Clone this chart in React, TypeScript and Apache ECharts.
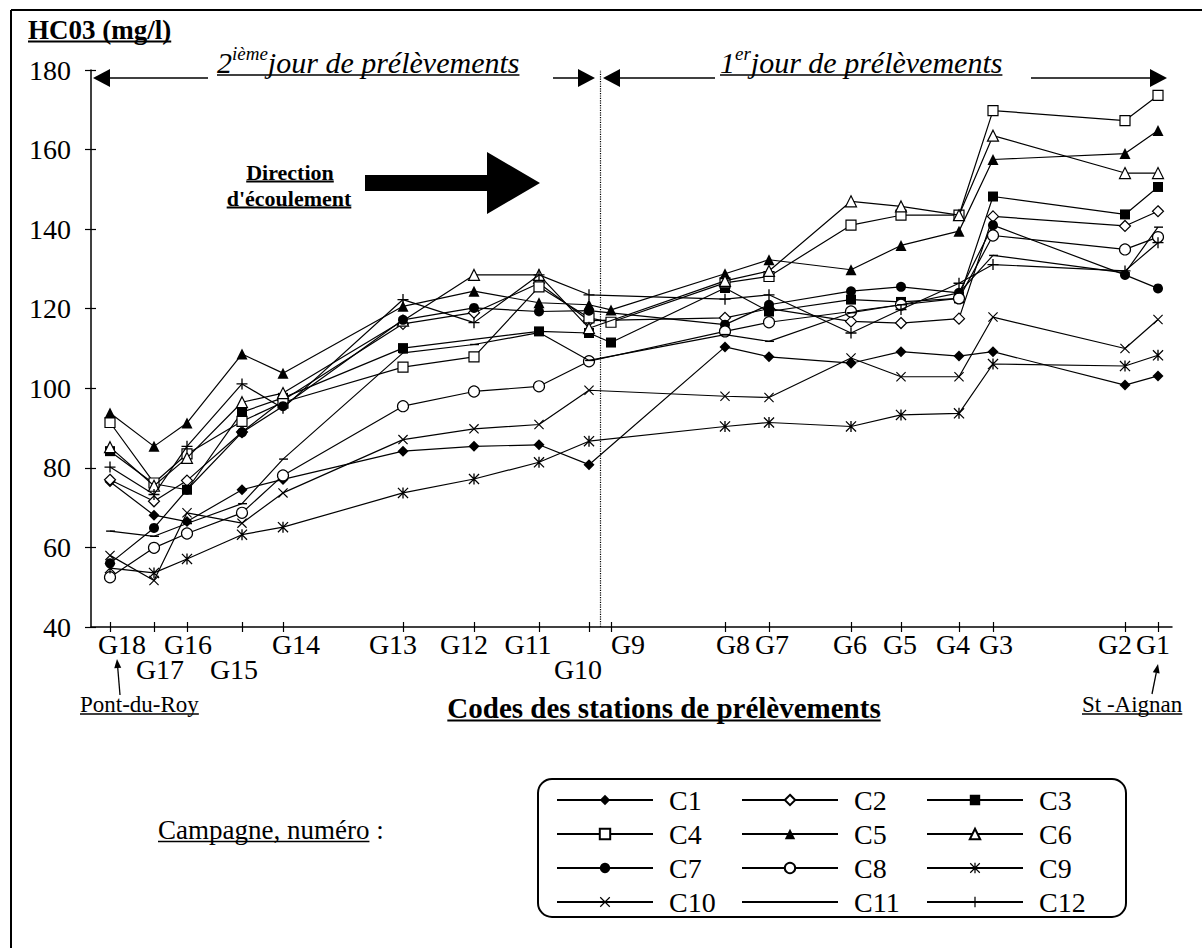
import React, { useEffect, useRef } from "react";
import * as echarts from "echarts";

// ---------- DATA ----------
const stations = ["G18", "G17", "G16", "G15", "G14", "G13", "G12", "G11", "G10", "G9", "G8", "G7", "G6", "G5", "G4", "G3", "G2", "G1"];
// position of each station along the river axis (axis units)
const stationDistance = [19, 63, 96, 151, 192, 312, 383, 448, 498, 520, 634, 678, 760, 810, 868, 902, 1034, 1067];
const secondRowStations = ["G17", "G15", "G10"];
const dayBoundary = 509;

const C1 = [76.5, 68.1, 66.5, 74.5, 77.1, 84.2, 85.4, 85.8, 80.8, null, 110.4, 107.9, 106.3, 109.2, 108.1, 109.2, 100.8, 103.1];
const C2 = [77, 71.6, 76.8, 89, 97, 116.2, 119, 126.4, 117, null, 117.7, 120, 116.8, 116.4, 117.5, 143.2, 140.8, 144.5];
const C3 = [84.2, 76, 74.5, 94, 97.6, 110.1, null, 114.3, 113.9, 111.5, 125.2, 119.3, 122.3, 121.7, 122.6, 148.2, 143.7, 150.6];
const C4 = [91.4, 76.2, 83.5, 91.7, 96.5, 105.3, 107.9, 125.5, 117.7, 116.6, 126.5, 128.1, 141, 143.5, 143.5, 169.8, 167.3, 173.6];
const C5 = [93.8, 85.4, 91.3, 108.6, 103.8, 120.6, 124.4, 121.5, 121, 119.7, 128.8, 132.3, 129.8, 135.9, 139.5, 157.5, 159, 164.8];
const C6 = [85.2, 75.5, 82.5, 96.5, 98.8, 117, 128.5, 128.5, 115.1, null, 127, 129.5, 147, 145.7, 143.5, 163.5, 154.1, 154.1];
const C7 = [56, 64.9, 74.5, 88.9, 95.5, 117.2, 120.2, 119.3, 119.5, null, 116, 121, 124.4, 125.5, 124, 141, 128.5, 125.1];
const C8 = [52.5, 59.9, 63.5, 68.7, 78.1, 95.5, 99.2, 100.5, 106.8, null, 114.3, 116.6, 119.3, 121, 122.6, 138.4, 134.9, 138];
const C9 = [54.8, 53.6, 57.1, 63.2, 65.1, 73.7, 77.2, 81.4, 86.7, null, 90.4, 91.4, 90.4, 93.3, 93.7, 106.1, 105.6, 108.3];
const C10 = [58, 51.7, 68.7, 66.1, 73.7, 87.1, 89.8, 90.9, 99.5, null, 98, 97.7, 107.6, 102.9, 102.9, 117.9, 110, 117.3];
const C11 = [64.1, 62.8, 66, 71, 82.2, 108.9, 111, 114, 107, null, 113.5, 111.8, 119, 121, 124, 133.4, 129, 140.5];
const C12 = [80.2, 73.3, 85.4, 101.1, 95, 122.3, 116.5, 128.5, 123.5, null, 122.4, 123.5, 113.9, 119.8, 126.4, 131.1, 129.5, 136.6];

const seriesNames = ["C1", "C2", "C3", "C4", "C5", "C6", "C7", "C8", "C9", "C10", "C11", "C12"];
const seriesValues = [C1, C2, C3, C4, C5, C6, C7, C8, C9, C10, C11, C12];

// ---------- STYLE ----------
const FONT = '"Liberation Serif", "Times New Roman", Times, serif';
const labelShift = [12, 6, 1, -8, 13, -10, -10, -11, -11, 17, 8, 3, -1, -1, -6, 3, -10, -5];
const legendColX = [556, 741, 926];
const legendRowY = [800, 834, 868, 902];

const SYM_PLUS = "path://M4.4,0L5.6,0L5.6,10L4.4,10ZM0,4.4L10,4.4L10,5.6L0,5.6Z";
const SYM_CROSS = "path://M0.8,0L10,9.2L9.2,10L0,0.8ZM9.2,0L10,0.8L0.8,10L0,9.2Z";
const SYM_STAR = "path://M0.8,0L10,9.2L9.2,10L0,0.8ZM9.2,0L10,0.8L0.8,10L0,9.2ZM4.4,0L5.6,0L5.6,10L4.4,10Z";
const SYM_DASH = "path://M0,0L0,0M1,4.3L9,4.3L9,5.7L1,5.7ZM0,10L0,10";

const markerStyles = [
  { symbol: "diamond", size: 11, fill: "#000" },
  { symbol: "diamond", size: 11, fill: "#fff" },
  { symbol: "rect", size: 10, fill: "#000" },
  { symbol: "rect", size: 10, fill: "#fff" },
  { symbol: "triangle", size: 11, fill: "#000" },
  { symbol: "triangle", size: 11, fill: "#fff" },
  { symbol: "circle", size: 10, fill: "#000" },
  { symbol: "circle", size: 11, fill: "#fff" },
  { symbol: SYM_STAR, size: 11, fill: "#000", path: true },
  { symbol: SYM_CROSS, size: 10, fill: "#000", path: true },
  { symbol: SYM_DASH, size: 10, fill: "#000", path: true },
  { symbol: SYM_PLUS, size: 11, fill: "#000", path: true },
];

let measureCtx: CanvasRenderingContext2D | null = null;
function measure(text: string, size: number, weight = "normal", style = "normal") {
  if (!measureCtx) measureCtx = document.createElement("canvas").getContext("2d");
  measureCtx!.font = `${style} ${weight} ${size}px ${FONT}`;
  return measureCtx!.measureText(text).width;
}

function txt(text: string, x: number, yc: number, size: number, opts: any = {}) {
  return {
    type: "text",
    x,
    y: yc,
    silent: true,
    style: {
      text,
      fill: "#000",
      fontSize: size,
      fontFamily: FONT,
      fontWeight: opts.weight || "normal",
      fontStyle: opts.style || "normal",
      align: opts.align || "left",
      textAlign: opts.align || "left",
      verticalAlign: "middle",
      textVerticalAlign: "middle",
    },
  };
}

function hline(x1: number, x2: number, y: number, w = 1.5) {
  return { type: "line", silent: true, shape: { x1, y1: y, x2, y2: y }, style: { stroke: "#000", lineWidth: w } };
}

function underlined(text: string, x: number, yc: number, size: number, opts: any = {}) {
  const w = measure(text, size, opts.weight || "normal", opts.style || "normal");
  const align = opts.align || "left";
  const x0 = align === "center" ? x - w / 2 : align === "right" ? x - w : x;
  const uy = yc + size * 0.43;
  return [txt(text, x, yc, size, opts), hline(x0, x0 + w, uy, opts.weight === "bold" ? 2 : 1.5)];
}

function supText(x: number, yc: number, base: string, sup: string, rest: string, size: number) {
  const supSize = Math.round(size * 0.62);
  const w1 = measure(base, size, "normal", "italic");
  const w2 = measure(sup, supSize, "normal", "italic");
  const w3 = measure(rest, size, "normal", "italic");
  return [
    txt(base, x, yc, size, { style: "italic" }),
    txt(sup, x + w1, yc - size * 0.3, supSize, { style: "italic" }),
    txt(rest, x + w1 + w2, yc, size, { style: "italic" }),
    hline(x, x + w1 + w2 + w3, yc + size * 0.43, 1.5),
  ];
}

function headLeft(tipX: number, y: number) {
  return { type: "polygon", silent: true, shape: { points: [[tipX, y], [tipX + 17, y - 9], [tipX + 17, y + 9]] }, style: { fill: "#000" } };
}
function headRight(tipX: number, y: number) {
  return { type: "polygon", silent: true, shape: { points: [[tipX, y], [tipX - 17, y - 9], [tipX - 17, y + 9]] }, style: { fill: "#000" } };
}

function smallArrow(x1: number, y1: number, x2: number, y2: number) {
  const ang = Math.atan2(y2 - y1, x2 - x1);
  const L = 9, W = 3.5;
  const bx = x2 - L * Math.cos(ang), by = y2 - L * Math.sin(ang);
  const px = -Math.sin(ang) * W, py = Math.cos(ang) * W;
  return [
    { type: "line", silent: true, shape: { x1, y1, x2: bx, y2: by }, style: { stroke: "#000", lineWidth: 1.3 } },
    { type: "polygon", silent: true, shape: { points: [[x2, y2], [bx + px, by + py], [bx - px, by - py]] }, style: { fill: "#000" } },
  ];
}

function buildGraphics() {
  const g: any[] = [];
  // frame
  g.push({ type: "line", silent: true, shape: { x1: 11, y1: 10, x2: 1202, y2: 10 }, style: { stroke: "#000", lineWidth: 2 } });
  g.push({ type: "line", silent: true, shape: { x1: 11, y1: 10, x2: 11, y2: 948 }, style: { stroke: "#000", lineWidth: 2 } });
  // title
  g.push(...underlined("HC03 (mg/l)", 28, 30, 27, { weight: "bold" }));
  // day arrows
  const ay = 78;
  g.push(headLeft(93, ay), hline(108, 208, ay, 1.5));
  g.push(...supText(217, 62, "2", "ième", "jour de prélèvements", 30));
  g.push(hline(553, 580, ay, 1.5), headRight(595, ay));
  g.push(headLeft(603, ay), hline(618, 715, ay, 1.5));
  g.push(...supText(720, 62, "1", "er", "jour de prélèvements", 30));
  g.push(hline(1031, 1152, ay, 1.5), headRight(1167, ay));
  // flow direction
  g.push(...underlined("Direction", 290, 172, 22, { weight: "bold", align: "center" }));
  g.push(...underlined("d'écoulement", 289, 198, 22, { weight: "bold", align: "center" }));
  g.push({
    type: "polygon",
    silent: true,
    shape: { points: [[365, 175], [487, 175], [487, 152], [540, 183], [487, 214], [487, 191], [365, 191]] },
    style: { fill: "#000" },
  });
  // x-axis name & endpoints
  g.push(...underlined("Codes des stations de prélèvements", 664, 708, 29, { weight: "bold", align: "center" }));
  g.push(...underlined("Pont-du-Roy", 80, 704, 23));
  g.push(...smallArrow(120, 695, 117, 659));
  g.push(...underlined("St -Aignan", 1082, 704, 23));
  g.push(...smallArrow(1152, 694, 1158, 664));
  // legend frame and caption
  g.push({
    type: "rect",
    silent: true,
    shape: { x: 538, y: 779, width: 588, height: 138, r: 14 },
    style: { fill: "none", stroke: "#000", lineWidth: 2 },
  });
  const cw = measure("Campagne, numéro", 27);
  g.push(...underlined("Campagne, numéro", 158, 830, 27));
  g.push(txt(" :", 158 + cw, 830, 27));
  return g;
}

export default function App() {
  const ref = useRef<HTMLDivElement>(null);
  useEffect(() => {
    document.body.style.margin = "0";
    const chart = echarts.init(ref.current!, null, { renderer: "svg" });

    const labelPos = stationDistance.map((d, i) => d + labelShift[i]);
    const firstRowPos = labelPos.filter((_, i) => !secondRowStations.includes(stations[i]));
    const secondRowPos = labelPos.filter((_, i) => secondRowStations.includes(stations[i]));
    const labelFmt = (val: number) => {
      const i = labelPos.indexOf(val);
      return i < 0 ? "" : stations[i];
    };
    const labelBase = {
      fontSize: 28,
      fontFamily: FONT,
      color: "#000",
      showMinLabel: true,
      showMaxLabel: true,
      hideOverlap: false,
      formatter: labelFmt,
    };

    const series: any[] = seriesNames.map((name, k) => {
      const m = markerStyles[k];
      return {
        name,
        type: "line",
        xAxisIndex: 0,
        yAxisIndex: 0,
        data: seriesValues[k].map((v, i) => [stationDistance[i], v == null ? "-" : v]),
        connectNulls: true,
        symbol: m.symbol,
        symbolSize: m.size,
        showSymbol: true,
        lineStyle: { color: "#000", width: 1.2 },
        itemStyle: { color: m.fill, borderColor: "#000", borderWidth: m.path ? 0 : m.fill === "#fff" ? 1.2 : 0 },
        emphasis: { disabled: true },
        z: 2 + k * 0.01,
      };
    });
    series[0].markLine = {
      silent: true,
      symbol: "none",
      label: { show: false },
      lineStyle: { type: "dotted", color: "#000", width: 1.2 },
      data: [{ xAxis: dayBoundary }],
    };

    const legends = seriesNames.map((name, k) => ({
      data: [name],
      left: legendColX[k % 3],
      top: legendRowY[Math.floor(k / 3)] - 14,
      orient: "horizontal",
      itemWidth: 96,
      itemHeight: 13,
      padding: 0,
      selectedMode: false,
      textStyle: { fontSize: 28, fontFamily: FONT, color: "#000", padding: [0, 0, 0, 11] },
    }));

    const xBase = { type: "value", min: 0, max: 1081, position: "bottom", splitLine: { show: false } };

    chart.setOption({
      animation: false,
      backgroundColor: "#fff",
      grid: { left: 91, right: 30, top: 70, bottom: 321 },
      xAxis: [
        {
          ...xBase,
          axisLine: { show: true, lineStyle: { color: "#000", width: 1.5 } },
          axisTick: { show: true, length: 5, customValues: stationDistance, lineStyle: { color: "#000", width: 1.2 } },
          axisLabel: { ...labelBase, margin: 3, customValues: firstRowPos },
        },
        {
          ...xBase,
          axisLine: { show: false },
          axisTick: { show: true, inside: true, length: 5, customValues: stationDistance, lineStyle: { color: "#000", width: 1.2 } },
          axisLabel: { show: false },
        },
        {
          ...xBase,
          axisLine: { show: false },
          axisTick: { show: false },
          axisLabel: { ...labelBase, margin: 28, customValues: secondRowPos },
        },
      ],
      yAxis: [
        {
          type: "value",
          min: 40,
          max: 180,
          interval: 20,
          axisLine: { show: true, lineStyle: { color: "#000", width: 1.5 } },
          axisTick: { show: true, length: 6, lineStyle: { color: "#000", width: 1.2 } },
          axisLabel: { margin: 20, fontSize: 28, fontFamily: FONT, color: "#000" },
          splitLine: { show: false },
        },
        {
          type: "value",
          min: 40,
          max: 180,
          interval: 20,
          position: "left",
          axisLine: { show: false },
          axisTick: { show: true, inside: true, length: 5, lineStyle: { color: "#000", width: 1.2 } },
          axisLabel: { show: false },
          splitLine: { show: false },
        },
      ],
      legend: legends,
      graphic: buildGraphics(),
      series,
    });
    return () => chart.dispose();
  }, []);
  return <div ref={ref} style={{ width: 1202, height: 948 }} />;
}
